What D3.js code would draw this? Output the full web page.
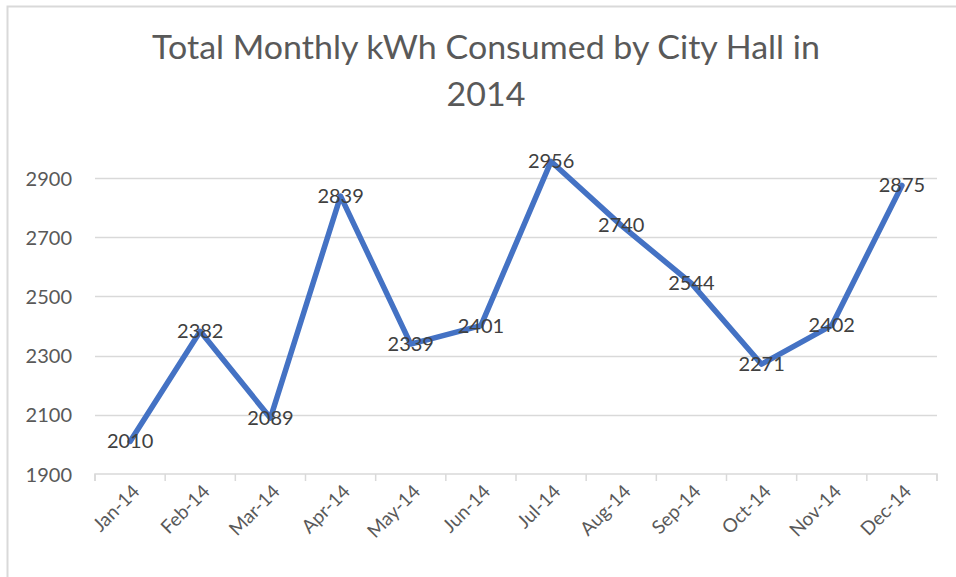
<!DOCTYPE html>
<html>
<head>
<meta charset="utf-8">
<script src="https://cdn.jsdelivr.net/npm/d3@7"></script>
<style>
  html, body { margin: 0; padding: 0; background: #fff; }
  svg { display: block; }
</style>
</head>
<body>
<svg id="chart" width="956" height="577"></svg>
<script>
const months = ["Jan-14","Feb-14","Mar-14","Apr-14","May-14","Jun-14","Jul-14","Aug-14","Sep-14","Oct-14","Nov-14","Dec-14"];
const kwh = [2010, 2382, 2089, 2839, 2339, 2401, 2956, 2740, 2544, 2271, 2402, 2875];
const yTicks = [1900, 2100, 2300, 2500, 2700, 2900];
const titleLines = ["Total Monthly kWh Consumed by City Hall in", "2014"];

const svg = d3.select("#chart");
const font = "Lato, 'Open Sans', sans-serif";

// Border (left and top visible)
svg.append("path")
  .attr("d", "M7.5,577 L7.5,6.5 L956,6.5")
  .attr("fill", "none").attr("stroke", "#d9d9d9").attr("stroke-width", 2);

const x = d3.scaleBand().domain(months).range([95, 937]).padding(0);
const y = d3.scaleLinear().domain([1900, 2900]).range([474, 178]);

// Gridlines
svg.append("g").selectAll("line").data(yTicks.filter(t => t !== 1900)).join("line")
  .attr("x1", 95).attr("x2", 937)
  .attr("y1", d => Math.round(y(d)) + 0.5).attr("y2", d => Math.round(y(d)) + 0.5)
  .attr("stroke", "#d9d9d9").attr("stroke-width", 1.3);

// Y axis labels
const yAxis = d3.axisLeft(y).tickValues(yTicks).tickSize(0).tickPadding(0).tickFormat(d3.format("d"));
const gy = svg.append("g").attr("transform", "translate(72,0)").call(yAxis);
gy.select(".domain").remove();
gy.selectAll("text").attr("font-family", font).attr("font-size", 20).attr("fill", "#595959").attr("dy", "0.35em");

// X axis
const xAxis = d3.axisBottom(x).tickSize(0).tickFormat("");
const gx = svg.append("g").attr("transform", "translate(0,474)").call(xAxis);
gx.select(".domain").attr("stroke", "#d9d9d9").attr("stroke-width", 1.5).attr("d", "M95,7V0H937V7");
gx.selectAll(".tick").remove();
const edges = d3.range(months.length + 1).map(i => 95 + i * x.step());
gx.selectAll("line.edge").data(edges).join("line").attr("class", "edge")
  .attr("x1", d => d).attr("x2", d => d).attr("y1", 0).attr("y2", 7)
  .attr("stroke", "#d9d9d9").attr("stroke-width", 1.5);

svg.append("g").selectAll("text").data(months).join("text")
  .attr("transform", d => `translate(${x(d) + x.bandwidth() / 2 + 6},488) rotate(-45)`)
  .attr("text-anchor", "end")
  .attr("dy", "0.35em")
  .attr("font-family", font).attr("font-size", 19).attr("fill", "#595959")
  .text(d => d);

// Line
const data = months.map((mo, i) => ({ mo, v: kwh[i] }));
const line = d3.line().x(d => x(d.mo) + x.bandwidth() / 2).y(d => y(d.v));
svg.append("path").datum(data)
  .attr("d", line).attr("fill", "none")
  .attr("stroke", "#4472C4").attr("stroke-width", 5.5)
  .attr("stroke-linejoin", "round").attr("stroke-linecap", "round");

// Data labels
svg.append("g").selectAll("text").data(data).join("text")
  .attr("x", d => x(d.mo) + x.bandwidth() / 2)
  .attr("y", d => y(d.v))
  .attr("dy", "0.35em")
  .attr("text-anchor", "middle")
  .attr("font-family", font).attr("font-size", 20).attr("fill", "#404040")
  .text(d => d.v);

// Title (compressed horizontally to mimic a narrow font)
const tfs = 33;
const tg = svg.append("g");
const t1 = tg.append("text").attr("x", 0).attr("y", 0).attr("text-anchor", "middle")
  .attr("font-family", font).attr("font-size", tfs).attr("fill", "#595959")
  .text(titleLines[0]);
const w = t1.node().getComputedTextLength();
const sx = 668 / w;
t1.attr("transform", `translate(486,59) scale(${sx},1)`);
tg.append("text").attr("text-anchor", "middle")
  .attr("transform", `translate(486,106) scale(${sx},1)`)
  .attr("font-family", font).attr("font-size", tfs).attr("fill", "#595959")
  .text(titleLines[1]);
</script>
</body>
</html>
